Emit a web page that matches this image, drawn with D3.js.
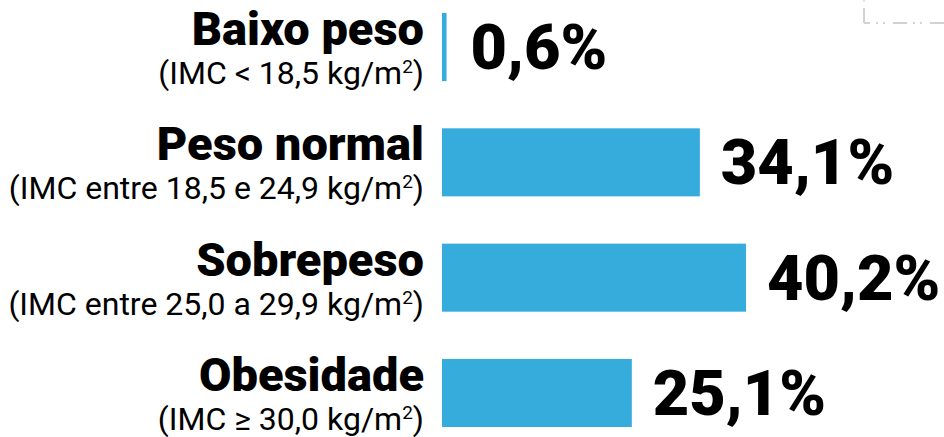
<!DOCTYPE html>
<html>
<head>
<meta charset="utf-8">
<script src="https://cdn.jsdelivr.net/npm/d3@7"></script>
<style>
  html, body { margin: 0; padding: 0; background: #fff; }
  svg { display: block; }
</style>
</head>
<body>
<div id="chart"></div>
<script>
// data
const categories = ['Baixo peso', 'Peso normal', 'Sobrepeso', 'Obesidade'];
const subtitles = ['(IMC < 18,5 kg/m', '(IMC entre 18,5 e 24,9 kg/m', '(IMC entre 25,0 a 29,9 kg/m', '(IMC ≥ 30,0 kg/m'];
const values = [0.6, 34.1, 40.2, 25.1];

const width = 944;
const height = 437;

const styles = {
  bar: { fill: '#36acdd' },
  label: {
    fontFamily: 'Roboto, sans-serif',
    fontWeight: 900,
    fontSize: '47px',
    fill: '#000',
    textAnchor: 'end'
  },
  sub: {
    fontFamily: 'Roboto, sans-serif',
    fontWeight: 400,
    fontSize: '32px',
    fill: '#000',
    textAnchor: 'end'
  },
  value: {
    fontFamily: 'Roboto, sans-serif',
    fontWeight: 900,
    fontSize: '63px',
    fill: '#000'
  },
  deco: {
    stroke: '#d2d2d2',
    strokeWidth: 2,
    fill: 'none'
  }
};

const label_x = 424;
const value_pad = 21;

const svg = d3.select('#chart').append('svg')
  .attr('width', width)
  .attr('height', height);

const rows = categories.map((c, i) => ({ cat: c, sub: subtitles[i], value: values[i] }));

// scales
const x = d3.scaleLinear().domain([0, 40.2]).range([442, 746]);
const y = d3.scaleBand().domain(categories).range([13, 427]).paddingInner(0.41).paddingOuter(0);

const fmt = v => d3.format('.1f')(v).replace('.', ',') + '%';

// faint decoration in the top right corner
svg.append('line')
  .attr('x1', 864).attr('x2', 864).attr('y1', 8).attr('y2', 23)
  .style('stroke', styles.deco.stroke).style('stroke-width', styles.deco.strokeWidth);
svg.append('line')
  .attr('x1', 864).attr('x2', 944).attr('y1', 23).attr('y2', 23)
  .style('stroke', styles.deco.stroke).style('stroke-width', styles.deco.strokeWidth)
  .style('stroke-dasharray', '6,6,2,5,2,8,14,6,2,5,2,8,14');
svg.append('rect')
  .attr('x', 863).attr('y', 0).attr('width', 2).attr('height', 2)
  .style('fill', '#e2e2e2');

const g = svg.selectAll('g.row')
  .data(rows)
  .join('g')
  .attr('class', 'row');

g.append('rect')
  .attr('x', x(0))
  .attr('y', d => y(d.cat))
  .attr('width', d => x(d.value) - x(0))
  .attr('height', y.bandwidth())
  .style('fill', styles.bar.fill);

g.append('text')
  .attr('x', label_x)
  .attr('y', d => y(d.cat) + y.bandwidth() / 2 - 2)
  .style('font-family', styles.label.fontFamily)
  .style('font-weight', styles.label.fontWeight)
  .style('font-size', styles.label.fontSize)
  .style('fill', styles.label.fill)
  .style('text-anchor', styles.label.textAnchor)
  .text(d => d.cat);

const sub = g.append('text')
  .attr('x', label_x)
  .attr('y', d => y(d.cat) + y.bandwidth() / 2 + 37)
  .style('font-family', styles.sub.fontFamily)
  .style('font-weight', styles.sub.fontWeight)
  .style('font-size', styles.sub.fontSize)
  .style('fill', styles.sub.fill)
  .style('text-anchor', styles.sub.textAnchor);

sub.append('tspan').text(d => d.sub);
sub.append('tspan')
  .attr('dy', -11)
  .style('font-size', '19px')
  .text('2');
sub.append('tspan')
  .attr('dy', 11)
  .text(')');

g.append('text')
  .attr('x', d => x(d.value) + value_pad + (d.value < 1 ? 3 : 0))
  .attr('y', d => y(d.cat) + y.bandwidth() / 2 + 22)
  .style('font-family', styles.value.fontFamily)
  .style('font-weight', styles.value.fontWeight)
  .style('font-size', styles.value.fontSize)
  .style('fill', styles.value.fill)
  .text(d => fmt(d.value));
</script>
</body>
</html>
